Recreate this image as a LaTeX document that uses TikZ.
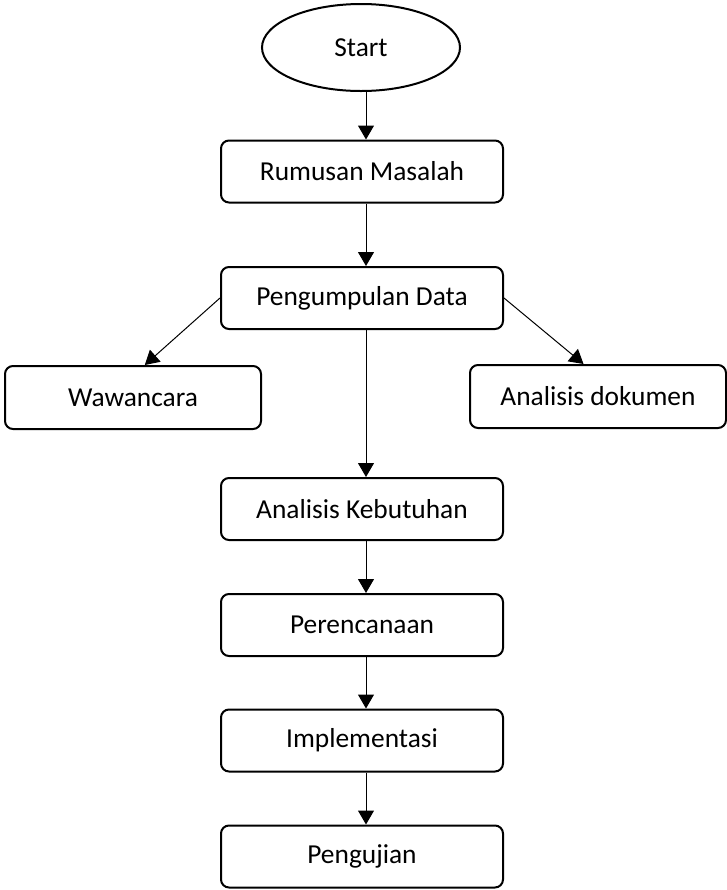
\documentclass[tikz,border=0pt]{standalone}
\usepackage{fontspec}
\setmainfont{Carlito}
\usepackage{tikz}
\usetikzlibrary{arrows.meta,positioning,calc,shapes.geometric}

\tikzset{
  proses/.style={draw,line width=1pt,rounded corners=4pt,minimum width=141pt,minimum height=31pt,inner sep=0pt,font=\fontsize{13.7}{16}\selectfont},
  sisi/.style={proses,minimum width=128pt,minimum height=31.5pt},
  panah/.style={-{Triangle[width=8pt,length=7pt]},line width=0.5pt}
}

\begin{document}
\begin{tikzpicture}[x=0.5pt,y=-0.5pt]
  \useasboundingbox (0,0) rectangle (727,890);
  \node[draw,ellipse,line width=1pt,minimum width=99pt,minimum height=43.5pt,inner sep=0pt,font=\fontsize{13.7}{16}\selectfont] (start) at (361,47.5) {Start};
  \node[proses] (rumusan) at (362,171.5) {Rumusan Masalah};
  \node[proses] (pengumpulan) at (362,298) {Pengumpulan Data};
  \node[sisi] (wawancara) at (133,397.5) {Wawancara};
  \node[sisi] (dokumen) at (598,396.5) {Analisis dokumen};
  \node[proses] (kebutuhan) at (362,509) {Analisis Kebutuhan};
  \node[proses] (perencanaan) at (362,625) {Perencanaan};
  \node[proses] (implementasi) at (362,740.5) {Implementasi};
  \node[proses] (pengujian) at (362,856.5) {Pengujian};

  \draw[panah] ([xshift=2pt]rumusan.north |- start.south) -- ([xshift=2pt]rumusan.north);
  \draw[panah] ([xshift=2pt]rumusan.south) -- ([xshift=2pt]pengumpulan.north);
  \draw[panah] (pengumpulan.west) -- (wawancara.70); % cabang kiri
  \draw[panah] (pengumpulan.east) -- (dokumen.114); % cabang kanan
  \draw[panah] ([xshift=2pt]pengumpulan.south) -- ([xshift=2pt]kebutuhan.north);
  \draw[panah] ([xshift=2pt]kebutuhan.south) -- ([xshift=2pt]perencanaan.north);
  \draw[panah] ([xshift=2pt]perencanaan.south) -- ([xshift=2pt]implementasi.north);
  \draw[panah] ([xshift=2pt]implementasi.south) -- ([xshift=2pt]pengujian.north);
\end{tikzpicture}
\end{document}
